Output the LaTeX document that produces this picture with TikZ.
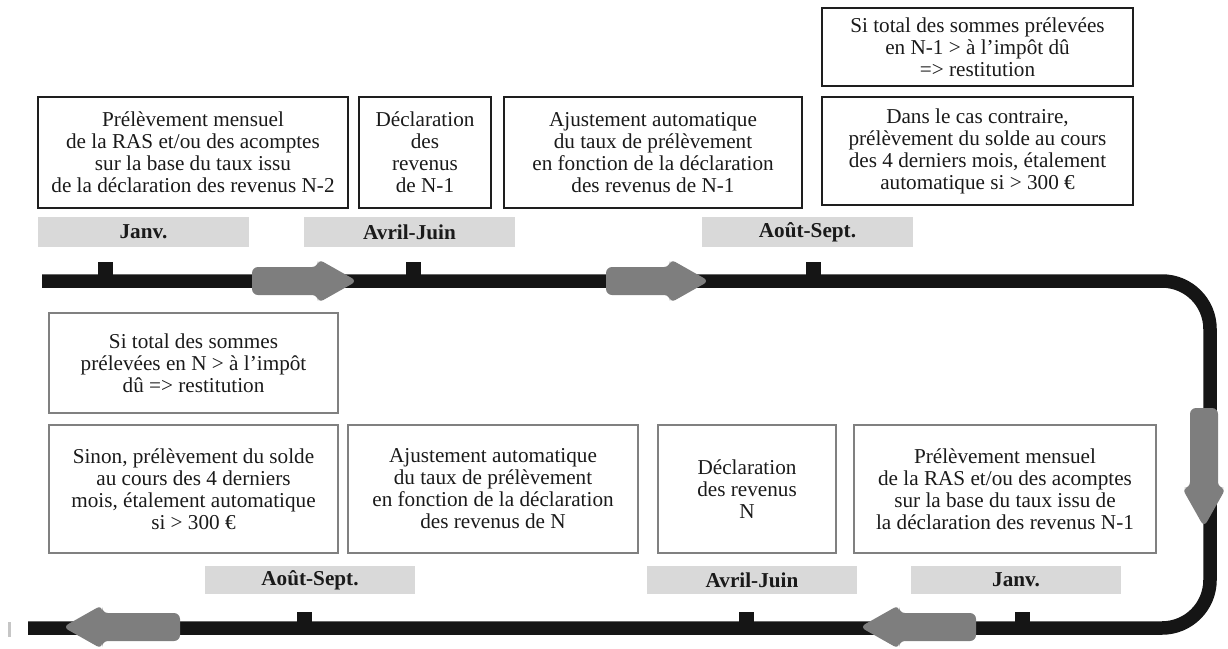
\documentclass[tikz,border=0pt]{standalone}
\usepackage{fontspec}
\setmainfont{Liberation Serif}
\newcommand{\boxfont}{\fontsize{21.2}{22}\selectfont}
\newcommand{\labfont}{\fontsize{21.2}{22}\selectfont\bfseries}
\definecolor{trackcol}{HTML}{151515}
\definecolor{arrowfill}{HTML}{7E7E7E}
\definecolor{labfill}{HTML}{D9D9D9}
\definecolor{topframe}{HTML}{1E1E1E}
\definecolor{botframe}{HTML}{808080}
\definecolor{txtcol}{HTML}{1A1A1A}
\tikzset{
  pics/barrow/.style={code={
    \fill[arrowfill, rounded corners=6pt] (0,-14) -- ({#1-39},-14) -- ({#1-39},-22) -- (#1,0) -- ({#1-39},22) -- ({#1-39},14) -- (0,14) -- cycle;}},
}
\begin{document}
\begin{tikzpicture}[x=1pt,y=-1pt,
  topbox/.style={draw=topframe, line width=2.5pt, align=center, inner sep=0pt, font=\boxfont, text=txtcol},
  botbox/.style={draw=botframe, line width=2pt, align=center, inner sep=0pt, font=\boxfont, text=txtcol},
  lab/.style={fill=labfill, inner sep=0pt, font=\labfont, text=txtcol},
  track/.style={draw=trackcol, line width=13.5pt, line cap=butt, rounded corners=48pt},
  tick/.style={fill=trackcol}]
\useasboundingbox (0,0) rectangle (1228,648);

% track
\draw[track] (42,281) -- (1210,281) -- (1210,628) -- (28,628);

% ticks
\foreach \x in {105.5,413.5,813} {\fill[tick] (\x-7.5,262) rectangle (\x+7.5,276);}
\foreach \x in {304.5,746,1022} {\fill[tick] (\x-7.5,612) rectangle (\x+7.5,623);}

% stray mark
\fill[gray!45] (8,622) rectangle (10.5,637);

% arrows
\pic at (252,281) {barrow=105};
\pic at (606,281) {barrow=103};
\pic[rotate=-90] at (1204,408) {barrow=119};
\pic[rotate=180] at (976,627) {barrow=116};
\pic[rotate=180] at (180,627) {barrow=117};

% top boxes
\node[topbox, minimum width=310, minimum height=111] (t1) at (193,152.5)
  {Prélèvement mensuel\\de la RAS et/ou des acomptes\\sur la base du taux issu\\de la déclaration des revenus N-2};
\node[topbox, minimum width=132, minimum height=111] (t2) at (425,152.5)
  {Déclaration\\des\\revenus\\de N-1};
\node[topbox, minimum width=298, minimum height=111] (t3) at (653,152.5)
  {Ajustement automatique\\du taux de prélèvement\\en fonction de la déclaration\\des revenus de N-1};
\node[topbox, minimum width=311, minimum height=78] (t5) at (977.5,47)
  {Si total des sommes prélevées\\en N-1 > à l’impôt dû\\=> restitution};
\node[topbox, minimum width=311, minimum height=108] (t4) at (977.5,151)
  {Dans le cas contraire,\\prélèvement du solde au cours\\des 4 derniers mois, étalement\\automatique si > 300 €};

% top labels
\node[lab, minimum width=211, minimum height=30] (lj1) at (143.5,232) {Janv.};
\node[lab, minimum width=211, minimum height=30] (la1) at (409.5,232) {Avril-Juin};
\node[lab, minimum width=211, minimum height=30] (lo1) at (807.5,232) {Août-Sept.};

% bottom boxes
\node[botbox, minimum width=289, minimum height=100] (b1) at (193.5,363)
  {Si total des sommes\\prélevées en N > à l’impôt\\dû => restitution};
\node[botbox, minimum width=289, minimum height=128] (b2) at (193.5,489)
  {Sinon, prélèvement du solde\\au cours des 4 derniers\\mois, étalement automatique\\si > 300 €};
\node[botbox, minimum width=290, minimum height=128] (b3) at (493,489)
  {Ajustement automatique\\du taux de prélèvement\\en fonction de la déclaration\\des revenus de N};
\node[botbox, minimum width=178, minimum height=128] (b4) at (747,489)
  {Déclaration\\des revenus\\N};
\node[botbox, minimum width=302, minimum height=128] (b5) at (1005,489)
  {Prélèvement mensuel\\de la RAS et/ou des acomptes\\sur la base du taux issu de\\la déclaration des revenus N-1};

% bottom labels
\node[lab, minimum width=210, minimum height=28] (lo2) at (310,580) {Août-Sept.};
\node[lab, minimum width=210, minimum height=28] (la2) at (752,580) {Avril-Juin};
\node[lab, minimum width=210, minimum height=28] (lj2) at (1016,580) {Janv.};
\end{tikzpicture}
\end{document}
